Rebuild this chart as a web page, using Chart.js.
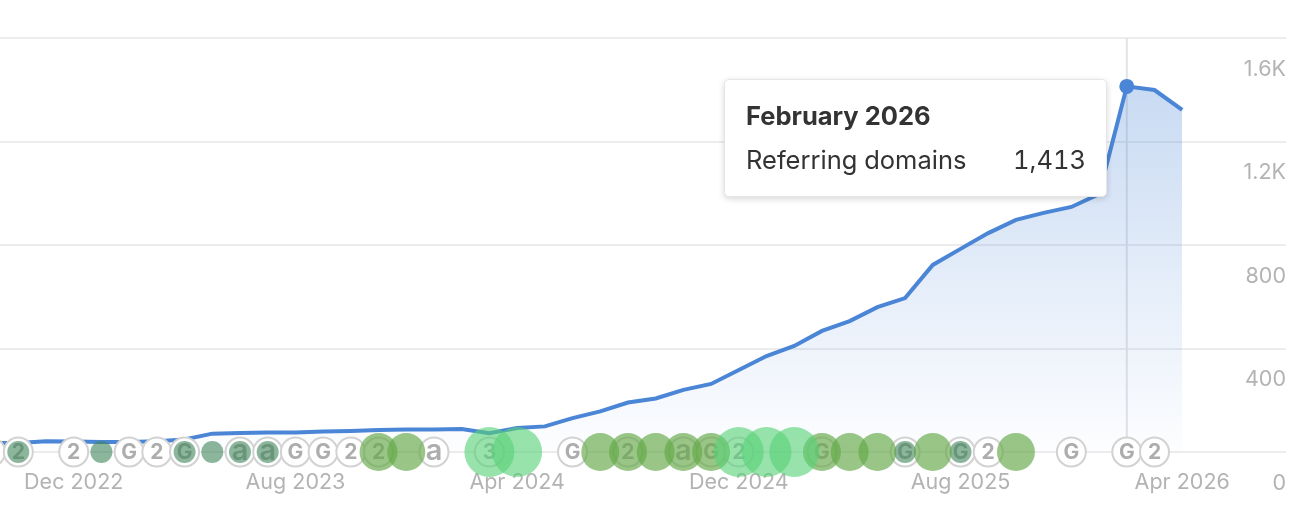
<!DOCTYPE html>
<html>
<head>
<meta charset="utf-8">
<style>
  html, body { margin: 0; padding: 0; background: #fff; overflow: hidden; }
  #wrap { position: relative; width: 1306px; height: 514px; }
  #tip {
    position: absolute; box-sizing: border-box; display: none;
    background: #fff; border: 1px solid #e6e6e6; border-radius: 5px;
    box-shadow: 0 2px 6px rgba(0,0,0,.16);
    font-family: Inter, sans-serif; color: #333;
    padding: 20px 20px 0 21px;
  }
  #tip .t { font-size: 25.5px; font-weight: 700; line-height: 32px; white-space: nowrap; }
  #tip .r { font-size: 25.5px; line-height: 32px; margin-top: 12px; display: flex; justify-content: space-between; white-space: nowrap; font-feature-settings: "tnum"; }
</style>
</head>
<body>
<div id="wrap">
  <canvas id="myChart" width="1306" height="514"></canvas>
  <div id="tip"></div>
</div>
<script src="https://cdn.jsdelivr.net/npm/chart.js@4"></script>
<script>
let monthLabels = [
  "Sep 2022","Oct 2022","Nov 2022","Dec 2022","Jan 2023","Feb 2023","Mar 2023","Apr 2023","May 2023","Jun 2023","Jul 2023",
  "Aug 2023","Sep 2023","Oct 2023","Nov 2023","Dec 2023","Jan 2024","Feb 2024","Mar 2024","Apr 2024","May 2024","Jun 2024",
  "Jul 2024","Aug 2024","Sep 2024","Oct 2024","Nov 2024","Dec 2024","Jan 2025","Feb 2025","Mar 2025","Apr 2025","May 2025",
  "Jun 2025","Jul 2025","Aug 2025","Sep 2025","Oct 2025","Nov 2025","Dec 2025","Jan 2026","Feb 2026","Mar 2026","Apr 2026"
];
let referringDomains = [
  35,35,42,41,39,39,42,48,71,73,75,
  75,79,81,85,87,87,89,73,93,99,131,
  157,191,207,240,263,317,371,410,468,506,560,
  595,723,785,846,897,924,947,997,1413,1399,1322
];
let xTickLabels = ["Dec 2022","Aug 2023","Apr 2024","Dec 2024","Aug 2025","Apr 2026"];
let yTickValues = [0,400,800,1200,1600];
let yTickLabels = ["0","400","800","1.2K","1.6K"];

let ringMonths = ["Sep 2022","Oct 2022","Dec 2022","Feb 2023","Mar 2023","Apr 2023","Jun 2023","Jul 2023","Aug 2023","Sep 2023","Oct 2023","Nov 2023","Jan 2024","Mar 2024","Jun 2024","Aug 2024","Oct 2024","Nov 2024","Dec 2024","Mar 2025","Jun 2025","Aug 2025","Sep 2025","Dec 2025","Feb 2026","Mar 2026"];
let ringTexts  = ["2","2","2","G","2","G","a","a","G","G","2","2","a","3","G","2","a","G","2","G","G","G","2","G","G","2"];
let darkMonths = ["Oct 2022","Jan 2023","Apr 2023","May 2023","Jun 2023","Jul 2023","Jun 2025","Aug 2025"];
let greenMonths = ["Nov 2023","Dec 2023","Jul 2024","Aug 2024","Sep 2024","Oct 2024","Nov 2024","Mar 2025","Apr 2025","May 2025","Jul 2025","Oct 2025"];
let lightMonths = ["Mar 2024","Apr 2024","Dec 2024","Jan 2025","Feb 2025"];

let hoverMonth = "Feb 2026";
let hoverTitle = "February 2026";
let seriesName = "Referring domains";

let monthX = (m) => monthLabels.indexOf(m);
let onBaseline = (list) => list.map((m) => ({ x: monthX(m), y: 0 }));

// ring letters go right after the rings so the bubbles sit on top of them
let ringTextPlugin = {
  id: "ringText",
  afterDatasetDraw(chart, args) {
    if (chart.data.datasets[args.index].label !== "rings") return;
    let ctx = chart.ctx;
    ctx.save();
    ctx.fillStyle = "#adadad";
    ctx.textAlign = "center";
    ctx.textBaseline = "middle";
    ringMonths.forEach((m, i) => {
      ctx.font = ringTexts[i] === "a" ? "600 29px Inter, sans-serif" : "700 21px Inter, sans-serif";
      let nudge = ringTexts[i] === "a" ? -1 : 1;
      ctx.fillText(ringTexts[i], chart.scales.x.getPixelForValue(monthX(m)), chart.scales.y.getPixelForValue(0) + nudge);
    });
    ctx.restore();
  }
};

let showTip = (context) => {
  let tip = document.getElementById("tip");
  if (context.tooltip.opacity === 0) { tip.style.display = "none"; return; }
  tip.innerHTML = '<div class="t">' + hoverTitle + '</div><div class="r"><span>' + seriesName +
    '</span><span>' + referringDomains[monthX(hoverMonth)].toLocaleString("en-US") + '</span></div>';
  tip.style.display = "block";
  tip.style.left = "724px";
  tip.style.top = "79px";
  tip.style.width = "383px";
  tip.style.height = "118px";
};

let ctx = document.getElementById("myChart").getContext("2d");
let chart = new Chart(ctx, {
  type: "line",
  data: {
    datasets: [
      {
        label: seriesName,
        data: referringDomains.map((v, i) => ({ x: i, y: v })),
        borderColor: "#4a85d6",
        borderWidth: 4,
        tension: 0,
        fill: "origin",
        backgroundColor: (c) => {
          let area = c.chart.chartArea;
          if (!area) return "transparent";
          let g = c.chart.ctx.createLinearGradient(0, area.top + 48, 0, area.bottom);
          g.addColorStop(0, "rgba(74,133,214,0.30)");
          g.addColorStop(1, "rgba(74,133,214,0.01)");
          return g;
        },
        pointRadius: (c) => (c.dataIndex === monthX(hoverMonth) ? 7.5 : 0),
        pointHoverRadius: (c) => (c.dataIndex === monthX(hoverMonth) ? 7.5 : 0),
        pointBackgroundColor: "#4a85d6",
        pointHoverBackgroundColor: "#4a85d6",
        pointBorderWidth: 0,
        pointHoverBorderWidth: 0,
        order: 5
      },
      {
        label: "crosshair",
        data: [{ x: monthX(hoverMonth), y: 0 }, { x: monthX(hoverMonth), y: 1600 }],
        borderColor: "#e2e3e7",
        borderWidth: 2,
        pointRadius: 0,
        fill: false,
        order: 6
      },
      {
        label: "rings",
        data: onBaseline(ringMonths),
        showLine: false,
        pointRadius: 14.5,
        pointBackgroundColor: "#fff",
        pointBorderColor: "#d2d2d2",
        pointBorderWidth: 2,
        clip: false,
        order: 4
      },
      {
        label: "dark",
        data: onBaseline(darkMonths),
        showLine: false,
        pointRadius: 11,
        pointBorderWidth: 0,
        pointBackgroundColor: "rgba(62,133,90,0.60)",
        clip: false,
        order: 3
      },
      {
        label: "green",
        data: onBaseline(greenMonths),
        showLine: false,
        pointRadius: 19,
        pointBorderWidth: 0,
        pointBackgroundColor: "rgba(100,168,72,0.66)",
        clip: false,
        order: 2
      },
      {
        label: "light",
        data: onBaseline(lightMonths),
        showLine: false,
        pointRadius: 25,
        pointBorderWidth: 0,
        pointBackgroundColor: "rgba(88,210,120,0.62)",
        clip: false,
        order: 1
      }
    ]
  },
  options: {
    responsive: false,
    animation: false,
    events: [],
    layout: { autoPadding: false, padding: { left: 0, right: 20, top: 38, bottom: 0 } },
    interaction: { mode: "nearest", intersect: false },
    plugins: {
      legend: { display: false },
      tooltip: { enabled: false, external: showTip }
    },
    scales: {
      x: {
        type: "linear",
        min: 0.34,
        max: 46.745,
        grid: { display: false },
        border: { display: false },
        afterBuildTicks: (axis) => { axis.ticks = xTickLabels.map((m) => ({ value: monthX(m) })); },
        afterFit: (axis) => { axis.height = 62; axis.paddingLeft = 0; axis.paddingRight = 0; },
        ticks: {
          autoSkip: false,
          maxRotation: 0,
          padding: 10,
          color: "#b3b3b3",
          font: { family: "Inter, sans-serif", size: 21.5 },
          callback: (v) => monthLabels[v]
        }
      },
      y: {
        position: "right",
        min: 0,
        max: 1600,
        grid: { color: "#ececec", lineWidth: 2, drawTicks: false },
        border: { display: false },
        afterBuildTicks: (axis) => { axis.ticks = yTickValues.map((v) => ({ value: v })); },
        afterFit: (axis) => { axis.width = 0; axis.paddingTop = 0; axis.paddingBottom = 0; },
        ticks: {
          mirror: true,
          padding: 0,
          labelOffset: 31.5,
          color: "#b3b3b3",
          font: { family: "Inter, sans-serif", size: 21.5 },
          callback: (v) => yTickLabels[yTickValues.indexOf(v)]
        }
      }
    }
  },
  plugins: [ringTextPlugin]
});

let active = [{ datasetIndex: 0, index: monthX(hoverMonth) }];
chart.setActiveElements(active);
chart.tooltip.setActiveElements(active, { x: 0, y: 0 });
chart.update();
</script>
</body>
</html>
